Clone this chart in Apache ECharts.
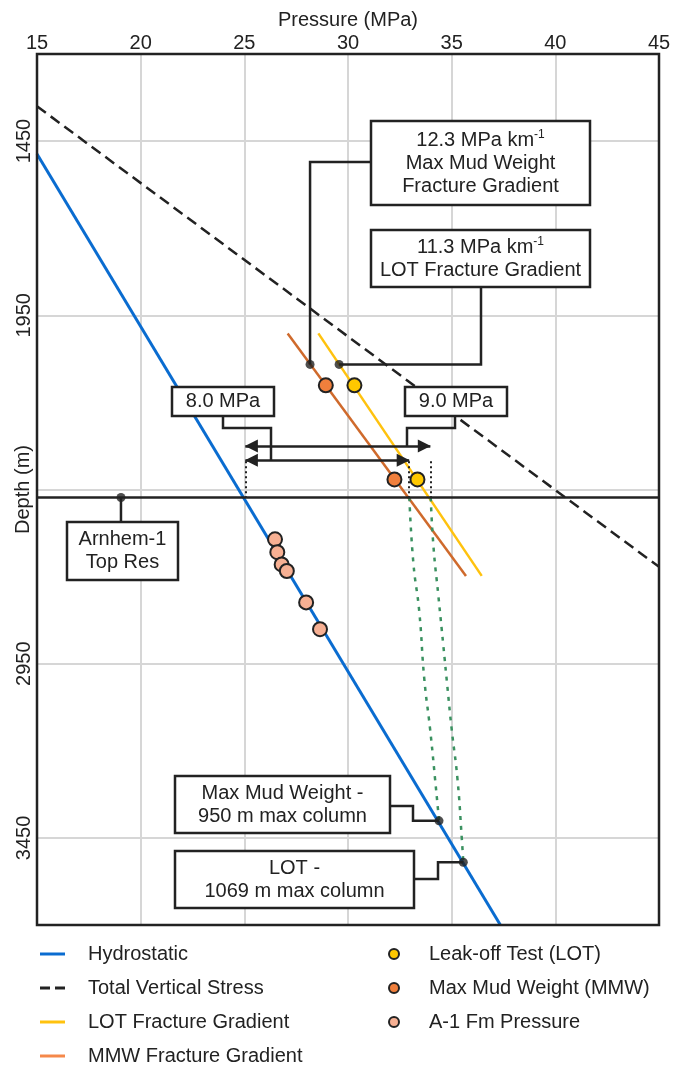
<!DOCTYPE html>
<html>
<head>
<meta charset="utf-8">
<script src="https://cdn.jsdelivr.net/npm/echarts@6/dist/echarts.min.js"></script>
<style>
  html, body { margin: 0; padding: 0; background: #fff; }
  #chart { width: 674px; height: 1065px; }
</style>
</head>
<body>
<div id="chart"></div>
<script>
// --- data (pressure MPa, depth m) ---
const depthTicks = [1450, 1950, 2450, 2950, 3450]
const depthLabels = [1450, 1950, 2950, 3450]

const hydrostatic = [[15, 1487], [37.35, 3700]]
const verticalStress = [[15, 1350], [45, 2672]]
const lotGradient = [[28.57, 2002], [36.45, 2698]]
const mmwGradient = [[27.09, 2002], [35.69, 2698]]

const lotPoints = [[30.31, 2151], [33.35, 2421]]
const mmwPoints = [[28.93, 2151], [32.24, 2421]]
const a1Pressure = [[26.48, 2593], [26.59, 2630], [26.80, 2665], [27.05, 2684], [27.98, 2774], [28.65, 2851]]

const topReservoir = 2473
// anchors for callouts: MMW grad, LOT grad, Arnhem-1, MMW column base, LOT column base
const anchorPoints = [[28.17, 2091], [29.57, 2091], [19.05, 2473], [34.39, 3401], [35.56, 3520]]

const mmwColumn = [[32.96, 2473], [33.15, 2659], [33.44, 2802], [33.68, 2994], [33.96, 3138], [34.20, 3281], [34.39, 3401]]
const lotColumn = [[33.99, 2473], [34.12, 2612], [34.36, 2756], [34.60, 2899], [34.79, 3014], [35.00, 3138], [35.28, 3281], [35.49, 3453], [35.56, 3520]]

// pressures at top reservoir: hydrostatic, MMW gradient, LOT gradient
const topPressures = [25.05, 32.95, 33.97]
const arrowDepths = [2325, 2366]
const dottedTop = 2369

const FONT = "'Liberation Sans', Arial, sans-serif"
const INK = '#222'

const chart = echarts.init(document.getElementById('chart'))

function line(name, data, color, extra) {
  return Object.assign({
    type: 'line', name, data, symbol: 'none', silent: true,
    lineStyle: { color, width: 2.5 }, itemStyle: { color }, z: 3,
  }, extra || {})
}

function dots(name, data, color, size) {
  return {
    type: 'scatter', name, data, symbolSize: size, z: 5,
    itemStyle: { color, borderColor: INK, borderWidth: 2, opacity: 1 },
  }
}

const dotted = topPressures.map(p => [{ coord: [p, dottedTop] }, { coord: [p, topReservoir] }])
const dashIcon = 'path://M0,0h10v3h-10z M15,0h10v3h-10z'

chart.setOption({
  animation: false,
  grid: {
    left: 37, right: 15, top: 54, bottom: 140, outerBoundsMode: 'none', containLabel: false,
    show: true, borderColor: INK, borderWidth: 2.5, z: 10,
  },
  xAxis: {
    type: 'value', position: 'top', min: 15, max: 45, interval: 5,
    name: 'Pressure (MPa)', nameLocation: 'middle', nameGap: 24, nameMoveOverlap: false,
    nameTextStyle: { fontFamily: FONT, fontSize: 20, color: INK },
    axisLine: { show: false }, axisTick: { show: false },
    axisLabel: { fontFamily: FONT, fontSize: 20, color: INK, margin: 1, showMinLabel: true, showMaxLabel: true },
    splitLine: { show: true, showMinLine: false, showMaxLine: false, lineStyle: { color: '#d6d6d6', width: 2 } },
  },
  yAxis: {
    type: 'value', inverse: true, min: 1200, max: 3700,
    name: 'Depth (m)', nameLocation: 'middle', nameGap: 4, nameRotate: 90, nameMoveOverlap: false,
    nameTextStyle: { fontFamily: FONT, fontSize: 20, color: INK },
    axisLine: { show: false },
    axisTick: { show: false, customValues: depthTicks },
    axisLabel: {
      fontFamily: FONT, fontSize: 20, color: INK, rotate: 90, margin: 3,
      customValues: depthLabels, formatter: v => String(v),
    },
    splitLine: { show: true, lineStyle: { color: '#d6d6d6', width: 2 } },
  },
  legend: [
    {
      orient: 'vertical', left: 40, top: 944, height: 200, padding: 0,
      itemWidth: 25, itemHeight: 3, itemGap: 14, icon: 'rect',
      selectedMode: false,
      textStyle: { fontFamily: FONT, fontSize: 20, color: INK, padding: [0, 0, 0, 18] },
      data: [
        'Hydrostatic',
        { name: 'Total Vertical Stress', icon: dashIcon },
        'LOT Fracture Gradient',
        { name: 'MMW Fracture Gradient', itemStyle: { color: '#f5884a' } },
      ],
    },
    {
      orient: 'vertical', left: 388, top: 944, height: 200, padding: 0,
      itemWidth: 10, itemHeight: 14, itemGap: 14,
      selectedMode: false, icon: 'circle',
      textStyle: { fontFamily: FONT, fontSize: 20, color: INK, padding: [0, 0, 0, 25] },
      data: ['Leak-off Test (LOT)', 'Max Mud Weight (MMW)', 'A-1 Fm Pressure'],
    },
  ],
  series: [
    line('Hydrostatic', hydrostatic, '#0a6cd0', { lineStyle: { color: '#0a6cd0', width: 3 } }),
    line('Total Vertical Stress', verticalStress, INK, { lineStyle: { color: INK, width: 2.5, type: [11, 6] } }),
    line('LOT Fracture Gradient', lotGradient, '#ffc20e'),
    line('MMW Fracture Gradient', mmwGradient, '#cf6a2c'),
    line('mmwColumn', mmwColumn, '#3a9160', { smooth: true, lineStyle: { color: '#3a9160', width: 2.5, type: [4, 6] } }),
    line('lotColumn', lotColumn, '#3a9160', { smooth: true, lineStyle: { color: '#3a9160', width: 2.5, type: [4, 6] } }),
    {
      type: 'line', name: 'marks', data: [], silent: true,
      markLine: {
        silent: true, symbol: 'none', animation: false,
        label: { show: false },
        data: [
          { yAxis: topReservoir, lineStyle: { color: INK, width: 2.5, type: 'solid' } },
          ...dotted.map(d => [Object.assign({ lineStyle: { color: INK, width: 2, type: [2, 3] } }, d[0]), d[1]]),
        ],
      },
    },
    {
      type: 'line', name: 'arrows', data: [], silent: true,
      markLine: {
        silent: true, symbol: ['triangle', 'triangle'], symbolSize: 13,
        symbolOffset: [[0, 6], [0, 6]], animation: false,
        label: { show: false },
        lineStyle: { color: INK, width: 2.5, type: 'solid' },
        itemStyle: { color: INK },
        data: [
          [{ coord: [topPressures[0], arrowDepths[0]] }, { coord: [topPressures[2], arrowDepths[0]] }],
          [{ coord: [topPressures[0], arrowDepths[1]] }, { coord: [topPressures[1], arrowDepths[1]] }],
        ],
      },
    },
    dots('Leak-off Test (LOT)', lotPoints, '#ffc800', 14),
    dots('Max Mud Weight (MMW)', mmwPoints, '#f07f3c', 14),
    dots('A-1 Fm Pressure', a1Pressure, '#f7b093', 14),
    { type: 'scatter', name: 'anchors', data: anchorPoints, symbolSize: 9, z: 6, itemStyle: { color: INK } },
  ],
})

// --- callout boxes ---
const A = anchorPoints.map(p => chart.convertToPixel({ gridIndex: 0 }, p))
const arrowY = arrowDepths.map(d => chart.convertToPixel({ gridIndex: 0 }, [15, d])[1])

const boxes = [
  { r: [371, 121, 219, 84], text: '12.3 MPa km{s|-1}\nMax Mud Weight\nFracture Gradient' },
  { r: [371, 230, 219, 57], text: '11.3 MPa km{s|-1}\nLOT Fracture Gradient' },
  { r: [172, 387, 102, 29], text: '8.0 MPa' },
  { r: [405, 387, 102, 29], text: '9.0 MPa' },
  { r: [67, 522, 111, 58], text: 'Arnhem-1\nTop Res' },
  { r: [175, 776, 215, 57], text: 'Max Mud Weight -\n950 m max column' },
  { r: [175, 851, 239, 57], text: 'LOT -\n1069 m max column' },
]

const connectors = [
  [[371, 162], [A[0][0], 162], A[0]],
  [[481, 287], [481, A[1][1]], A[1]],
  [A[2], [A[2][0], 522]],
  [[390, 806], [413, 806], [413, A[3][1]], A[3]],
  [[414, 879], [438, 879], [438, A[4][1]], A[4]],
  [[223, 416], [223, 428], [271, 428], [271, arrowY[1]]],
  [[455, 416], [455, 428], [407, 428], [407, arrowY[0]]],
]

const graphic = []
connectors.forEach(pts => {
  graphic.push({
    type: 'polyline', z: 20, silent: true,
    shape: { points: pts },
    style: { stroke: INK, lineWidth: 2.5, fill: null },
  })
})
boxes.forEach(b => {
  const [x, y, w, h] = b.r
  graphic.push({
    type: 'rect', z: 21, silent: true,
    shape: { x, y, width: w, height: h },
    style: { fill: '#fff', stroke: INK, lineWidth: 2.5 },
  })
  graphic.push({
    type: 'text', z: 22, silent: true,
    style: {
      x: x + w / 2, y: y + h / 2, text: b.text, align: 'center', verticalAlign: 'middle',
      font: '20px ' + FONT, fill: INK, lineHeight: 23,
      rich: { s: { fontSize: 12, fontFamily: FONT, lineHeight: 23, verticalAlign: 'top', padding: [0, 0, 10, 0] } },
    },
  })
})
chart.setOption({ graphic })
</script>
</body>
</html>
